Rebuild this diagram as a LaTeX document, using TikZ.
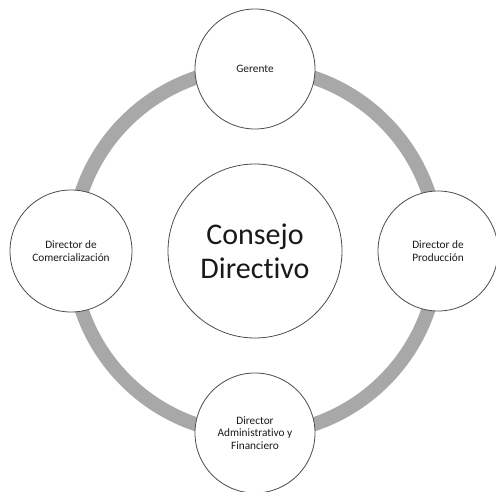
\documentclass[tikz,border=0pt]{standalone}
\usepackage{fontspec}
\setmainfont{Carlito}[Ligatures=NoCommon]
\tikzset{
  puesto/.style={circle, draw=black!70, line width=0.8pt, fill=white,
    minimum size=120pt, inner sep=0pt, align=center, text=black!90,
    font=\fontsize{11.3}{12.6}\selectfont},
  consejo/.style={puesto, minimum size=174pt, font=\fontsize{30}{34}\selectfont},
  anillo/.style={draw=gray!68, line width=14pt}
}
\begin{document}
\begin{tikzpicture}[x=1pt,y=1pt]
\useasboundingbox (0,0) rectangle (496,491);
\pgfmathsetmacro{\r}{183};
\coordinate (O) at (255,240);
% anillo gris detras de los circulos
\draw[anillo] (O) circle (\r pt);
\node[consejo] (cd) at (O) {Consejo\\Directivo};
\node[puesto] (ger) at (255,422) {Gerente};
\node[puesto, minimum size=122pt] (com) at (71,240) {Director de\\Comercialización};
\node[puesto] (pro) at (438,240) {Director de\\Producción};
\node[puesto] (adm) at (255,58) {Director\\Administrativo y\\Financiero};
\end{tikzpicture}
\end{document}
